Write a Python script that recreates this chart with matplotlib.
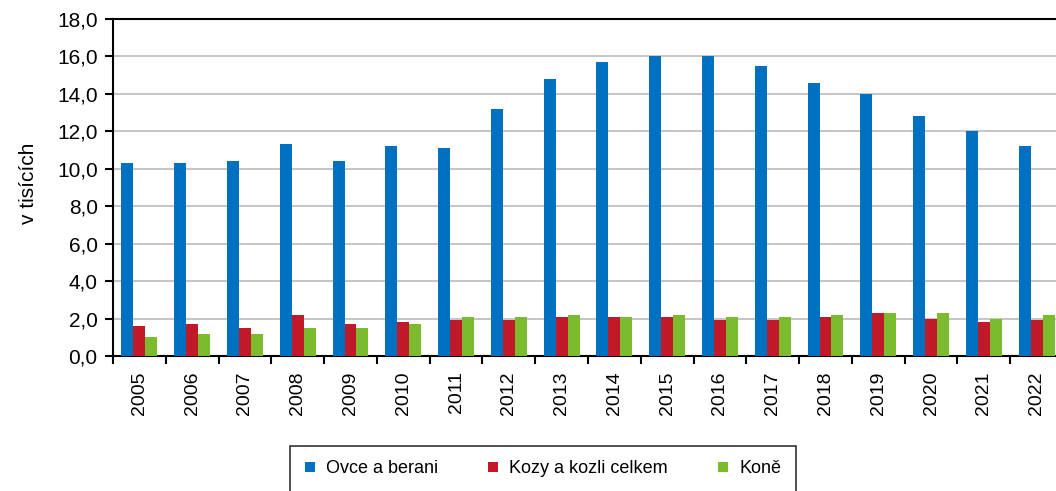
import matplotlib
matplotlib.use("Agg")
import matplotlib.pyplot as plt
import numpy as np
from matplotlib.ticker import FuncFormatter, FixedLocator

years = ["2005", "2006", "2007", "2008", "2009", "2010", "2011", "2012", "2013",
         "2014", "2015", "2016", "2017", "2018", "2019", "2020", "2021", "2022"]
ovce = [10.3, 10.3, 10.4, 11.3, 10.4, 11.2, 11.1, 13.2, 14.8, 15.7, 16.0, 16.0,
        15.5, 14.6, 14.0, 12.8, 12.0, 11.2]
kozy = [1.6, 1.7, 1.5, 2.2, 1.7, 1.8, 1.9, 1.9, 2.1, 2.1, 2.1, 1.9,
        1.9, 2.1, 2.3, 2.0, 1.8, 1.9]
kone = [1.0, 1.2, 1.2, 1.5, 1.5, 1.7, 2.1, 2.1, 2.2, 2.1, 2.2, 2.1,
        2.1, 2.2, 2.3, 2.3, 2.0, 2.2]
series_names = ["Ovce a berani", "Kozy a kozli celkem", "Koně"]
colors = ["#0070C0", "#C0192A", "#7DBB2E"]

plt.rcParams['font.family'] = ['Liberation Sans', 'DejaVu Sans']

W, H = 1056, 491
fig = plt.figure(figsize=(W / 100, H / 100), dpi=100)
left, right, top, bottom = 113, 1063, 19, 356
ax = fig.add_axes([left / W, 1 - bottom / H, (right - left) / W, (bottom - top) / H])

x = np.arange(len(years))
bw = 0.227
for i, (vals, name, c) in enumerate(zip([ovce, kozy, kone], series_names, colors)):
    ax.bar(x + (i - 1) * bw, vals, width=bw, color=c, label=name, zorder=3)

ax.set_xlim(-0.5, len(years) - 0.5)
ax.set_ylim(0, 18)
ax.set_yticks(np.arange(0, 18.1, 2))
ax.yaxis.set_major_formatter(FuncFormatter(lambda v, p: f"{v:.1f}".replace(".", ",")))
ax.yaxis.grid(True, color="#C0C0C0", linewidth=1.3, zorder=0)
ax.set_axisbelow(True)

ax.set_xticks(x)
ax.set_xticklabels(years, rotation=90, fontsize=14)
ax.tick_params(axis='x', which='major', length=0, pad=11)
ax.xaxis.set_minor_locator(FixedLocator(np.arange(-0.5, len(years), 1)))
ax.tick_params(axis='x', which='minor', length=6, width=1.5, direction='out')
ax.tick_params(axis='y', which='major', length=6, width=1.5, direction='out', labelsize=15, pad=5)

for s in ['left', 'bottom', 'top']:
    ax.spines[s].set_linewidth(1.5)
    ax.spines[s].set_color('black')
ax.spines['right'].set_visible(False)

fig.text(28 / W, 1 - 183 / H, "v tisících", rotation=90, fontsize=15,
         ha='center', va='center')

leg = fig.legend(loc='upper center', bbox_to_anchor=(543 / W, 1 - 446 / H),
                 ncol=3, fontsize=13, frameon=True, fancybox=False,
                 edgecolor='black', handlelength=0.55, handleheight=0.55,
                 handletextpad=0.6, columnspacing=2.8, borderpad=0.8,
                 borderaxespad=0)
leg.get_frame().set_linewidth(1.2)
leg._legend_box.align = "center"

fig.savefig("out.png", dpi=100)
